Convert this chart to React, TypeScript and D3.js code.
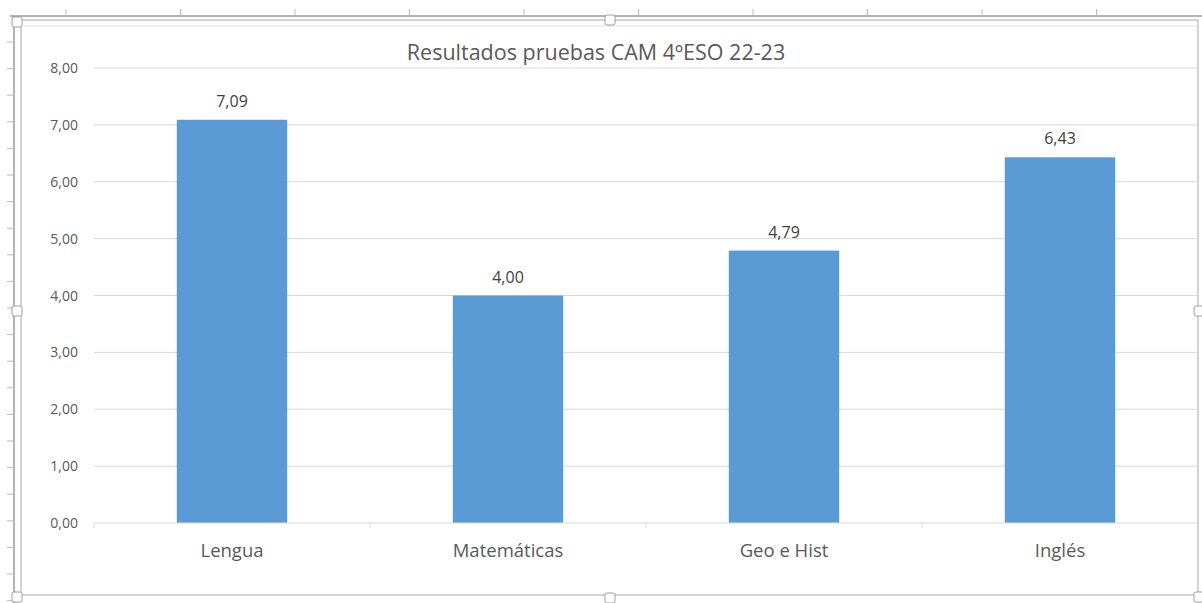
import React from "react";
import * as d3 from "d3";

const categories = ["Lengua", "Matemáticas", "Geo e Hist", "Inglés"];
const values = [7.09, 4.0, 4.79, 6.43];
const yTicks = [0, 1, 2, 3, 4, 5, 6, 7, 8];
const title = "Resultados pruebas CAM 4ºESO 22-23";

const W = 1202;
const H = 603;
const FONT = "'Open Sans', sans-serif";
const TXT = "#595959";

export default function App() {
  const plotLeft = 94;
  const plotRight = 1198;
  const plotTop = 68;
  const plotBottom = 523;

  const x = d3.scaleBand<string>().domain(categories).range([plotLeft, plotRight]).paddingInner(0.6).paddingOuter(0.3);
  const xOuter = d3.scaleBand<string>().domain(categories).range([plotLeft, plotRight]);
  const y = d3.scaleLinear().domain([0, 8]).range([plotBottom, plotTop]);
  const fmt = (v: number) => d3.format(".2f")(v).replace(".", ",");

  const colTicks = d3.range(66, W, 114.5);
  const rowTicks = d3.range(42, H, 26.6);

  return (
    <svg width={W} height={H} style={{ position: "absolute", left: 0, top: 0, background: "#fff" }}>
      {/* spreadsheet frame */}
      <line x1={10} x2={W} y1={16} y2={16} stroke="#9a9a9a" strokeWidth={1.5} />
      {colTicks.map((cx, i) => (
        <line key={"c" + i} x1={cx} x2={cx} y1={9} y2={16} stroke="#bbb" />
      ))}
      <line x1={14} x2={14} y1={16} y2={H} stroke="#9a9a9a" strokeWidth={1.5} />
      {rowTicks.map((ry, i) => (
        <line key={"r" + i} x1={7} x2={14} y1={ry} y2={ry} stroke="#bbb" />
      ))}
      {/* chart border */}
      <rect x={21} y={20} width={1177} height={575} fill="#fff" stroke="#a6a6a6" strokeWidth={1} />
      <line x1={21} x2={1198} y1={26} y2={26} stroke="#e0e0e0" />
      {/* handles */}
      {[
        [17, 22],
        [610, 20],
        [17, 311],
        [1199, 311],
        [610, 598],
        [17, 597],
        [1199, 597],
      ].map(([hx, hy], i) => (
        <rect key={"h" + i} x={hx - 5} y={hy - 5} width={10} height={10} rx={2} fill="#fff" stroke="#a0a0a0" />
      ))}

      {/* title */}
      <text x={596} y={60} textAnchor="middle" fontFamily={FONT} fontSize={21.5} fill={TXT}>
        {title}
      </text>

      {/* gridlines */}
      {yTicks.map((t) => (
        <g key={t}>
          {t > 0 && (
            <line x1={plotLeft} x2={plotRight} y1={y(t)} y2={y(t)} stroke="#d9d9d9" strokeWidth={1} />
          )}
          <text x={78} y={y(t) + 5} textAnchor="end" fontFamily={FONT} fontSize={14} fill={TXT}>
            {fmt(t)}
          </text>
        </g>
      ))}

      {/* bars */}
      {categories.map((c, i) => (
        <g key={c}>
          <rect x={x(c)} y={y(values[i])} width={x.bandwidth()} height={y(0) - y(values[i])} fill="#5b9bd5" />
          <text
            x={(x(c) as number) + x.bandwidth() / 2}
            y={y(values[i]) - 13}
            textAnchor="middle"
            fontFamily={FONT}
            fontSize={16}
            fill="#404040"
          >
            {fmt(values[i])}
          </text>
          <text
            x={(xOuter(c) as number) + xOuter.bandwidth() / 2}
            y={557}
            textAnchor="middle"
            fontFamily={FONT}
            fontSize={18.5}
            fill={TXT}
          >
            {c}
          </text>
        </g>
      ))}

      {/* x axis */}
      <line x1={plotLeft} x2={plotRight} y1={plotBottom} y2={plotBottom} stroke="#d9d9d9" />
      {categories.map((c, i) => (
        <line
          key={"t" + i}
          x1={xOuter(c) as number}
          x2={xOuter(c) as number}
          y1={plotBottom}
          y2={plotBottom + 5}
          stroke="#d9d9d9"
        />
      ))}
    </svg>
  );
}
